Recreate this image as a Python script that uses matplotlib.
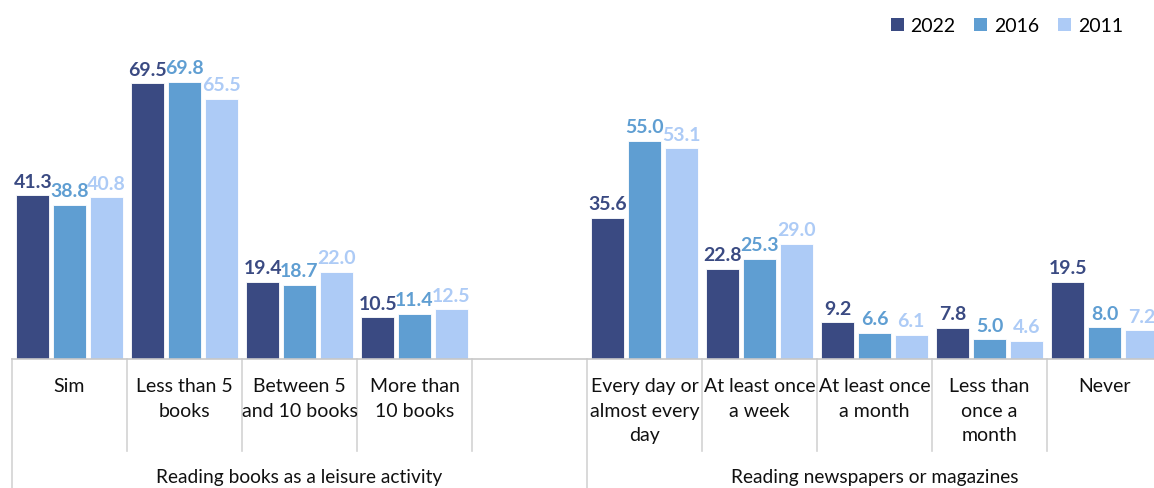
import numpy as np
import matplotlib
matplotlib.use("Agg")
import matplotlib.pyplot as plt
from matplotlib.transforms import blended_transform_factory
from matplotlib.patches import Patch

plt.rcParams['font.family'] = ['Lato', 'DejaVu Sans']

categories = ["Sim", "Less than 5\nbooks", "Between 5\nand 10 books", "More than\n10 books", "",
              "Every day or\nalmost every\nday", "At least once\na week", "At least once\na month",
              "Less than\nonce a\nmonth", "Never"]
series_names = ["2022", "2016", "2011"]
v2022 = [41.3, 69.5, 19.4, 10.5, None, 35.6, 22.8, 9.2, 7.8, 19.5]
v2016 = [38.8, 69.8, 18.7, 11.4, None, 55.0, 25.3, 6.6, 5.0, 8.0]
v2011 = [40.8, 65.5, 22.0, 12.5, None, 53.1, 29.0, 6.1, 4.6, 7.2]
group_labels = ["Reading books as a leisure activity", "Reading newspapers or magazines"]
group_sizes = [5, 5]

colors = ["#3A4A82", "#5F9ED2", "#ADCBF6"]

W, H = 1154, 489
fig = plt.figure(figsize=(W / 100, H / 100), dpi=100)
ax_left = 12 / W
ax_width = 1150 / W
ax_bottom = 1 - 360 / H
ax_height = 360 / H
ax = fig.add_axes([ax_left, ax_bottom, ax_width, ax_height])

x = np.arange(len(categories))
bw = 0.287
step = 0.32
for i, (vals, c) in enumerate(zip([v2022, v2016, v2011], colors)):
    arr = np.array([np.nan if v is None else v for v in vals], dtype=float)
    pos = x + (i - 1) * step
    ax.bar(pos, arr, width=bw, color=c, edgecolor="white", linewidth=0.6, zorder=2)
    for px, v in zip(pos, arr):
        if np.isnan(v):
            continue
        ax.annotate(f"{v:.1f}", (px, v), xytext=(0, 4), textcoords="offset points",
                    ha="center", va="bottom", color=c, fontsize=14, fontweight="bold")

ax.set_xlim(-0.5, len(categories) - 0.5)
ax.set_ylim(0, 90.7)
for s in ["top", "right", "left"]:
    ax.spines[s].set_visible(False)
ax.spines["bottom"].set_color("#C8C8C8")
ax.spines["bottom"].set_linewidth(1.2)
ax.set_yticks([])
ax.set_xticks([])

trans = blended_transform_factory(ax.transData, fig.transFigure)
y_axis = 1 - 360 / H
y_minor = 1 - 452 / H
line_c = "#D3D3D3"
# category labels
for xi, lab in zip(x, categories):
    if lab:
        ax.text(xi, 1 - 378 / H, lab, transform=trans, ha="center", va="top",
                fontsize=14, linespacing=1.55, color="#111111")
# separators
start = 0
bounds = []
for g in group_sizes:
    bounds.append((start, start + g))
    start += g
for (a, b), glab in zip(bounds, group_labels):
    ax.plot([a - 0.5, a - 0.5], [y_axis, 0], transform=trans, color=line_c, lw=1.2, clip_on=False)
    for k in range(a, b - 1):
        ax.plot([k + 0.5, k + 0.5], [y_axis, y_minor], transform=trans, color=line_c, lw=1.2, clip_on=False)
    ax.text((a + b - 1) / 2, 1 - 478 / H, glab, transform=trans, ha="center", va="center",
            fontsize=13.8, color="#111111")

handles = [Patch(facecolor=c, edgecolor="none", label=n) for c, n in zip(colors, series_names)]
fig.legend(handles=handles, loc="center right", bbox_to_anchor=(1123 / W, 1 - 27 / H), ncol=3,
           frameon=False, fontsize=14, handlelength=0.68, handleheight=0.68,
           handletextpad=0.35, columnspacing=0.95, borderaxespad=0, borderpad=0)

fig.savefig("out.png", dpi=100)
